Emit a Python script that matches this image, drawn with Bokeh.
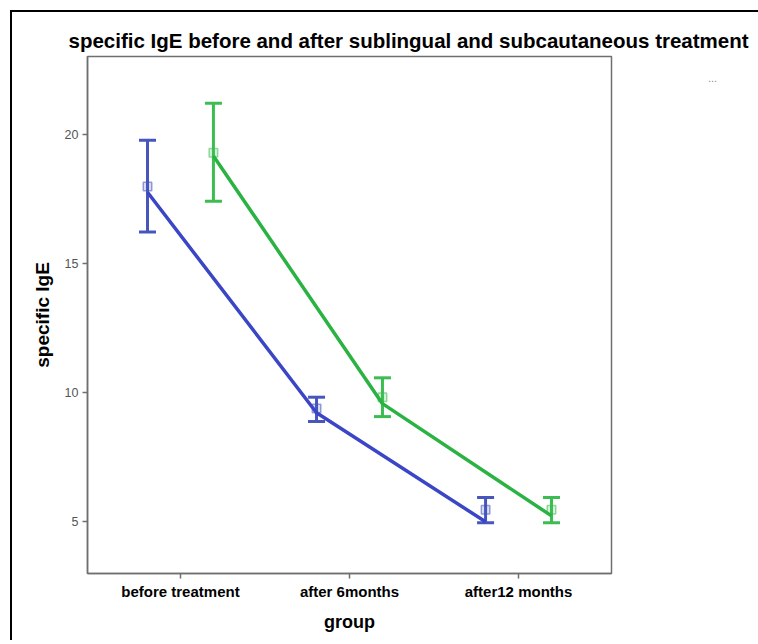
from bokeh.plotting import figure
from bokeh.models import (FactorRange, Range1d, ColumnDataSource, Whisker, TeeHead,
                          Label, Title, FixedTicker, InlineStyleSheet)
from bokeh.transform import dodge
from bokeh.embed import file_html
from bokeh.resources import INLINE

# ---- data ----
groups = ["before treatment", "after 6months", "after12 months"]

blue_mean = [17.97, 9.38, 5.47]
blue_upper = [19.76, 9.82, 5.94]
blue_lower = [16.21, 8.88, 4.96]
blue_line = [17.75, 9.22, 5.00]

green_mean = [19.28, 9.82, 5.47]
green_upper = [21.19, 10.57, 5.94]
green_lower = [17.40, 9.07, 4.96]
green_line = [19.15, 9.57, 5.23]

y_ticks = [5, 10, 15, 20]

FONT = "Liberation Sans"
BLUE_LINE = "#3a46c6"
BLUE_ERR = "#4656bd"
GREEN_LINE = "#2ab342"
GREEN_ERR = "#3cbd52"

# the picture's outer black frame (left and top edges; it runs past the right/bottom)
frame_sheet = InlineStyleSheet(css="""
:host {
  background-color: white;
  background-image: linear-gradient(black, black), linear-gradient(black, black);
  background-position: 10px 10px, 10px 10px;
  background-size: 2px 700px, 800px 2px;
  background-repeat: no-repeat;
}
""")

p = figure(width=758, height=640,
           x_range=FactorRange(factors=groups, range_padding=0.05,
                               range_padding_units="absolute"),
           y_range=Range1d(3, 23),
           output_backend="svg", toolbar_location=None,
           min_border_left=87, min_border_right=147,
           min_border_top=56, min_border_bottom=67,
           background_fill_color="white", border_fill_color=None,
           stylesheets=[frame_sheet])

p.grid.visible = False
p.outline_line_color = "#6f6f6f"
p.outline_line_width = 1.5

title = Title(text="specific IgE before and after sublingual and subcautaneous treatment",
              text_font=FONT, text_font_size="20.5px", text_font_style="bold",
              text_color="black", align="left", offset=-19, standoff=10)
p.add_layout(title, "above")

# axes
for ax in (p.xaxis[0], p.yaxis[0]):
    ax.axis_line_color = "#6f6f6f"
    ax.axis_line_width = 1.5
    ax.major_tick_line_color = "#6f6f6f"
    ax.major_tick_line_width = 1.5
    ax.major_tick_out = 5
    ax.major_tick_in = 0
    ax.minor_tick_line_color = None
    ax.axis_label_text_font = FONT
    ax.axis_label_text_font_style = "bold"
    ax.axis_label_text_color = "black"
    ax.major_label_text_font = FONT

p.yaxis.ticker = FixedTicker(ticks=y_ticks)
p.yaxis.axis_label = "specific IgE"
p.yaxis.axis_label_text_font_size = "19px"
p.yaxis.axis_label_standoff = 9
p.yaxis.major_label_text_font_size = "12.5px"
p.yaxis.major_label_text_color = "#555555"
p.yaxis.major_label_standoff = 4

p.xaxis.axis_label = "group"
p.xaxis.axis_label_text_font_size = "18px"
p.xaxis.axis_label_standoff = 9
p.xaxis.major_label_text_font_size = "15px"
p.xaxis.major_label_text_font_style = "bold"
p.xaxis.major_label_text_color = "black"
p.xaxis.major_label_standoff = 4

OFF = 0.195
series = [
    (blue_mean, blue_upper, blue_lower, blue_line, -OFF, BLUE_LINE, BLUE_ERR),
    (green_mean, green_upper, green_lower, green_line, OFF, GREEN_LINE, GREEN_ERR),
]

for mean, up, lo, line, off, lc, ec in series:
    src = ColumnDataSource(dict(g=groups, mean=mean, up=up, lo=lo, line=line))
    w = Whisker(source=src, base=dodge("g", off, range=p.x_range), upper="up", lower="lo",
                line_color=ec, line_width=3,
                upper_head=TeeHead(size=17, line_color=ec, line_width=3),
                lower_head=TeeHead(size=17, line_color=ec, line_width=3))
    p.add_layout(w)
    p.scatter(x=dodge("g", off, range=p.x_range), y="mean", source=src, marker="square",
              size=8.5, line_color=ec, line_alpha=0.55, fill_color=ec, fill_alpha=0.2,
              line_width=1.5)
    p.line(x=dodge("g", off, range=p.x_range), y="line", source=src,
           line_color=lc, line_width=3.5)

# small "..." marker at the top right (outside the plot frame, in the right panel)
p.add_layout(Label(x=712, y=77, x_units="canvas", y_units="canvas", text="...",
                   text_font=FONT, text_font_size="11px", text_color="#888888",
                   text_align="center", text_baseline="middle"), "right")

open("out.html", "w").write(file_html(p, INLINE))
